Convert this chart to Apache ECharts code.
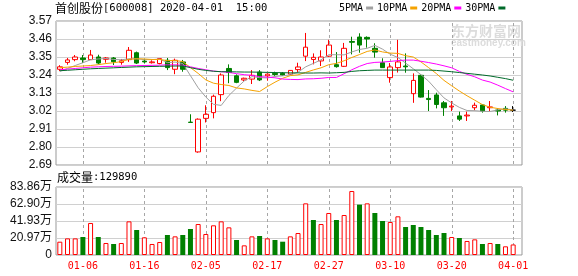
<!DOCTYPE html>
<html>
<head>
<meta charset="utf-8">
<script src="https://cdn.jsdelivr.net/npm/echarts@6/dist/echarts.min.js"></script>
<style>
html,body{margin:0;padding:0;background:#fff;}
#c{width:578px;height:276px;}
</style>
</head>
<body>
<div id="c"></div>
<script>
const dates = ['12-31','01-02','01-03','01-06','01-07','01-08','01-09','01-10','01-13','01-14','01-15','01-16','01-17','01-20','01-21','01-22','01-23','02-03','02-04','02-05','02-06','02-07','02-10','02-11','02-12','02-13','02-14','02-17','02-18','02-19','02-20','02-21','02-24','02-25','02-26','02-27','02-28','03-02','03-03','03-04','03-05','03-06','03-09','03-10','03-11','03-12','03-13','03-16','03-17','03-18','03-19','03-20','03-23','03-24','03-25','03-26','03-27','03-30','03-31','04-01'];
const opens  = [3.275,3.317,3.334,3.344,3.334,3.35,3.336,3.344,3.317,3.334,3.376,3.325,3.315,3.31,3.33,3.275,3.32,2.952,2.77,2.975,3.01,3.12,3.28,3.235,3.21,3.215,3.258,3.235,3.25,3.25,3.245,3.273,3.355,3.335,3.326,3.355,3.303,3.293,3.445,3.472,3.47,3.403,3.315,3.224,3.285,3.295,3.126,3.238,3.097,3.118,3.07,3.045,2.99,2.99,3.04,3.057,3.04,3.026,3.036,3.025];
const closes = [3.29,3.332,3.35,3.334,3.362,3.313,3.344,3.321,3.327,3.391,3.313,3.32,3.32,3.34,3.285,3.33,3.275,2.95,2.97,3.0,3.11,3.24,3.255,3.195,3.22,3.238,3.21,3.245,3.243,3.24,3.268,3.289,3.41,3.348,3.35,3.423,3.291,3.403,3.44,3.423,3.46,3.38,3.285,3.289,3.32,3.29,3.207,3.105,3.09,3.06,3.04,3.05,2.97,2.995,3.055,3.02,3.045,3.02,3.025,3.025];
const lows   = [3.264,3.303,3.324,3.313,3.332,3.305,3.315,3.301,3.303,3.32,3.307,3.31,3.31,3.305,3.27,3.245,3.26,2.95,2.765,2.95,2.975,3.08,3.19,3.19,3.203,3.185,3.203,3.205,3.235,3.236,3.24,3.254,3.325,3.305,3.295,3.35,3.285,3.289,3.366,3.376,3.407,3.346,3.283,3.193,3.255,3.254,3.07,3.102,3.02,3.036,2.99,3.02,2.959,2.959,3.024,3.01,3.02,2.993,3.01,3.014];
const highs  = [3.30,3.344,3.362,3.362,3.393,3.364,3.35,3.35,3.338,3.411,3.383,3.34,3.33,3.343,3.344,3.34,3.332,3.0,2.975,3.055,3.12,3.25,3.305,3.244,3.224,3.27,3.27,3.25,3.26,3.258,3.27,3.315,3.497,3.372,3.391,3.455,3.38,3.436,3.474,3.495,3.476,3.434,3.342,3.313,3.455,3.372,3.25,3.244,3.148,3.132,3.081,3.081,3.016,3.016,3.071,3.06,3.081,3.036,3.05,3.05];
const volumes = [164000,205000,205000,222000,395000,222000,148000,136000,148000,415000,308000,218000,136000,160000,247000,230000,247000,321000,382000,259000,366000,415000,341000,185000,119000,230000,234000,205000,185000,164000,230000,271000,637000,432000,382000,518000,432000,493000,789000,621000,637000,518000,419000,407000,477000,345000,370000,345000,308000,247000,271000,222000,210000,173000,193000,136000,148000,136000,107000,129890];
const ma5  = [3.262,3.28,3.298,3.315,3.333,3.338,3.341,3.335,3.333,3.339,3.339,3.334,3.334,3.337,3.316,3.319,3.31,3.236,3.162,3.105,3.061,3.054,3.115,3.16,3.204,3.23,3.224,3.222,3.231,3.235,3.241,3.257,3.29,3.311,3.333,3.364,3.364,3.363,3.381,3.396,3.403,3.421,3.398,3.367,3.347,3.313,3.278,3.242,3.202,3.15,3.1,3.069,3.042,3.023,3.022,3.018,3.017,3.027,3.033,3.027];
const ma10 = [3.285,3.288,3.292,3.295,3.298,3.303,3.31,3.315,3.322,3.336,3.339,3.338,3.335,3.335,3.328,3.329,3.322,3.285,3.25,3.21,3.19,3.182,3.176,3.161,3.155,3.146,3.139,3.169,3.196,3.22,3.236,3.241,3.256,3.271,3.284,3.303,3.311,3.327,3.347,3.365,3.384,3.393,3.381,3.374,3.372,3.358,3.35,3.32,3.285,3.249,3.207,3.174,3.142,3.113,3.086,3.059,3.043,3.035,3.029,3.025];
const ma20 = [3.272,3.276,3.28,3.284,3.288,3.29,3.292,3.293,3.294,3.296,3.297,3.298,3.299,3.3,3.302,3.302,3.3,3.29,3.28,3.272,3.264,3.26,3.256,3.248,3.242,3.238,3.23,3.227,3.223,3.215,3.213,3.212,3.216,3.217,3.22,3.225,3.225,3.248,3.272,3.293,3.31,3.317,3.319,3.323,3.328,3.331,3.331,3.324,3.316,3.307,3.296,3.284,3.262,3.244,3.229,3.209,3.197,3.178,3.157,3.137];
const ma30 = [3.266,3.269,3.272,3.275,3.278,3.28,3.282,3.284,3.286,3.288,3.29,3.291,3.292,3.293,3.294,3.295,3.295,3.285,3.275,3.268,3.263,3.26,3.26,3.259,3.258,3.258,3.257,3.256,3.255,3.254,3.253,3.253,3.252,3.252,3.253,3.252,3.254,3.256,3.262,3.266,3.268,3.27,3.27,3.27,3.27,3.27,3.27,3.27,3.27,3.268,3.264,3.26,3.255,3.25,3.245,3.24,3.234,3.226,3.218,3.208];
const priceTicks = ['2.69','2.80','2.91','3.02','3.13','3.24','3.35','3.46','3.57'];
const volTicks = ['0','20.97万','41.93万','62.90万','83.86万'];
const xTickDates = ['01-06','01-16','02-05','02-17','02-27','03-10','03-20','04-01'];
const priceMin = 2.69, priceMax = 3.57;
const volMax = 838600;
const stockTitle = '首创股份';
const stockCode = '[600008] 2020-04-01  15:00';
const volLabel = '成交量';
const lastVolume = 129890;

const RED = '#ff0000', GREEN = '#008000';
const mono = "'DejaVu Sans Mono', monospace";
const cjk = "'Noto Sans CJK SC', sans-serif";

const candleData = opens.map((o, i) => {
  const item = { value: [o, closes[i], lows[i], highs[i]] };
  if (o === closes[i]) item.itemStyle = { color: '#000', color0: '#000', borderColor: '#000', borderColor0: '#000' };
  return item;
});
const volData = volumes.map((v, i) => {
  const prev = i === 0 ? opens[0] : closes[i - 1];
  const up = closes[i] >= prev;
  return { value: v, itemStyle: up ? { color: '#fff', borderColor: RED, borderWidth: 1 } : { color: GREEN, borderColor: GREEN, borderWidth: 0 } };
});

const L = 56, gridW = 466, dataW = 461;

// dashed vertical guides through the labelled dates, positioned via the category scale
function guideSeries(xIdx, yIdx, yVal) {
  return {
    type: 'custom', xAxisIndex: xIdx, yAxisIndex: yIdx, silent: true, z: 10, clip: false,
    dimensions: ['x', 'y'], encode: { x: 0, y: 1 },
    data: xTickDates.map(d => [dates.indexOf(d), yVal]),
    renderItem: function (params, api) {
      const p = api.coord([api.value(0), api.value(1)]);
      const cs = params.coordSys;
      const px = Math.round(p[0]);
      const children = [];
      for (let y = cs.y + 2; y < cs.y + cs.height - 1; y += 6) {
        children.push({ type: 'rect', shape: { x: px, y: y, width: 1, height: Math.min(3, cs.y + cs.height - y) },
          style: { fill: '#a6a6a6' } });
      }
      return { type: 'group', children: children };
    }
  };
}

const chart = echarts.init(document.getElementById('c'), null, { renderer: 'canvas' });
chart.setOption({
  animation: false,
  backgroundColor: '#fff',
  title: [
    { text: '{a|' + stockTitle + '}{b|' + stockCode + '}', left: 55, top: 2, padding: 0,
      textStyle: { fontWeight: 'normal', rich: { a: { fontFamily: cjk, fontSize: 12, fontWeight: 'normal', color: '#000' }, b: { fontFamily: mono, fontSize: 10.5, fontWeight: 'normal', color: '#000' } } } },
    { text: '{a|' + volLabel + '}{b|:' + lastVolume + '}', left: 57, top: 171, padding: 0,
      textStyle: { fontWeight: 'normal', rich: { a: { fontFamily: cjk, fontSize: 12, fontWeight: 'normal', color: '#000' }, b: { fontFamily: mono, fontSize: 10.5, fontWeight: 'normal', color: '#000' } } } }
  ],
  legend: {
    left: 339, top: 3, padding: 0, align: 'right', icon: 'rect', z: 20,
    itemWidth: 7, itemHeight: 3, itemGap: 4, selectedMode: false,
    textStyle: { fontFamily: mono, fontSize: 10, color: '#000', padding: [0, -2, 0, 0] },
    data: ['5PMA', '10PMA', '20PMA', '30PMA']
  },
  graphic: [
    { type: 'text', left: 451, top: 24, silent: true, z: 0,
      style: { text: '东方财富网', font: 'bold 14px ' + cjk, fill: '#dcdcdc' } },
    { type: 'text', left: 451, top: 38, silent: true, z: 0,
      style: { text: 'eastmoney.com', font: 'bold 10px Arial, sans-serif', fill: '#dcdcdc' } }
  ],
  grid: [
    { left: L, top: 21, width: gridW, height: 144, show: true, borderColor: '#999', borderWidth: 1, backgroundColor: 'transparent' },
    { left: L, top: 21, width: dataW, height: 144 },
    { left: L, top: 187, width: gridW, height: 68, show: true, borderColor: '#999', borderWidth: 1, backgroundColor: 'transparent' },
    { left: L, top: 187, width: dataW, height: 68 }
  ],
  xAxis: [
    { type: 'value', gridIndex: 0, min: 0, max: 1, show: false },
    { type: 'category', gridIndex: 1, data: dates, boundaryGap: true,
      axisLine: { show: false }, axisTick: { show: false }, axisLabel: { show: false }, splitLine: { show: false } },
    { type: 'value', gridIndex: 2, min: 0, max: 1, show: false },
    { type: 'category', gridIndex: 3, data: dates, boundaryGap: true,
      axisLine: { show: false }, axisTick: { show: false }, splitLine: { show: false },
      axisLabel: { show: true, margin: 6, color: RED, fontFamily: mono, fontSize: 10,
        interval: (idx, val) => xTickDates.indexOf(val) >= 0 } }
  ],
  yAxis: [
    { type: 'value', gridIndex: 0, min: 0, max: priceTicks.length - 1, interval: 1,
      axisLine: { show: false }, axisTick: { show: false },
      axisLabel: { margin: 4, color: '#111', fontFamily: 'Liberation Sans, Arial, sans-serif', fontSize: 12,
        formatter: v => priceTicks[v] },
      splitLine: { show: true, lineStyle: { color: '#d0d0d0', width: 1 } } },
    { type: 'value', gridIndex: 1, min: priceMin, max: priceMax, show: false, splitLine: { show: false } },
    { type: 'value', gridIndex: 2, min: 0, max: volTicks.length - 1, interval: 1,
      axisLine: { show: false }, axisTick: { show: false },
      axisLabel: { margin: 4, color: '#111', fontFamily: "'Liberation Sans', Arial, 'Noto Sans CJK SC', sans-serif", fontSize: 12,
        formatter: v => volTicks[v] },
      splitLine: { show: true, lineStyle: { color: '#d0d0d0', width: 1 } } },
    { type: 'value', gridIndex: 3, min: 0, max: volMax, show: false, splitLine: { show: false } }
  ],
  series: [
    guideSeries(1, 1, priceMin),
    guideSeries(3, 3, 0),
    { name: 'K', type: 'candlestick', xAxisIndex: 1, yAxisIndex: 1, barWidth: 5, z: 12,
      itemStyle: { color: '#fff', color0: GREEN, borderColor: RED, borderColor0: GREEN, borderWidth: 1 },
      data: candleData },
    { name: '5PMA', type: 'line', xAxisIndex: 1, yAxisIndex: 1, data: ma5, showSymbol: false, symbol: 'none',
      color: '#a0a0a0', lineStyle: { width: 1, color: '#a0a0a0' }, z: 13 },
    { name: '10PMA', type: 'line', xAxisIndex: 1, yAxisIndex: 1, data: ma10, showSymbol: false, symbol: 'none',
      color: '#f5a200', lineStyle: { width: 1, color: '#f5a200' }, z: 13 },
    { name: '20PMA', type: 'line', xAxisIndex: 1, yAxisIndex: 1, data: ma20, showSymbol: false, symbol: 'none',
      color: '#ff00ff', lineStyle: { width: 1, color: '#ff00ff' }, z: 13 },
    { name: '30PMA', type: 'line', xAxisIndex: 1, yAxisIndex: 1, data: ma30, showSymbol: false, symbol: 'none',
      color: '#006a2a', lineStyle: { width: 1, color: '#006a2a' }, z: 13 },
    { name: 'VOL', type: 'bar', xAxisIndex: 3, yAxisIndex: 3, barWidth: 5, data: volData, z: 12 }
  ]
});
</script>
</body>
</html>
